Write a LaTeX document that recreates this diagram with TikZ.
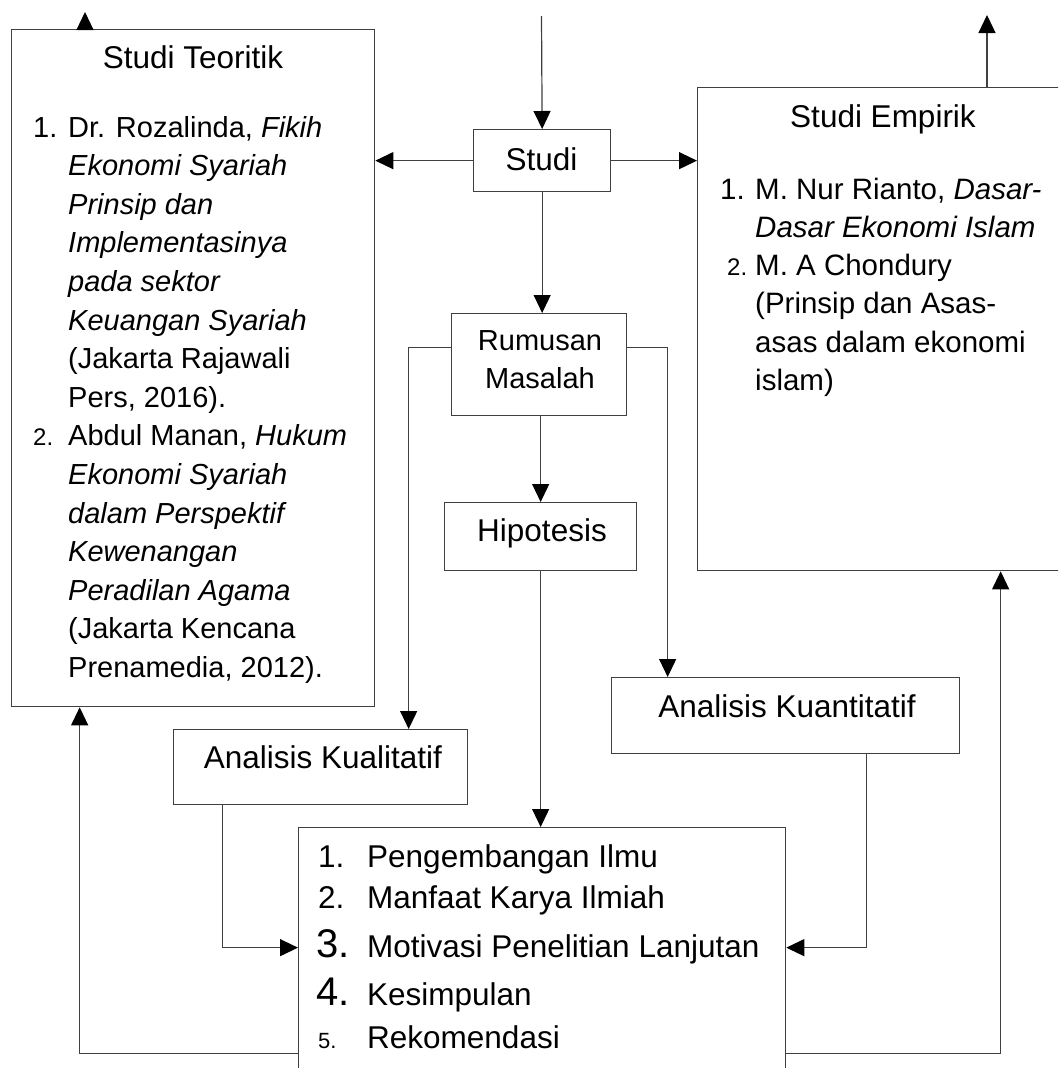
\documentclass[tikz,border=0pt]{standalone}
\usepackage{fontspec}
\setmainfont{Liberation Sans}
\usetikzlibrary{arrows.meta}
\newcommand{\fT}{\fontsize{31.5}{31.5}\selectfont}
\newcommand{\fI}{\fontsize{29}{29}\selectfont}
\newcommand{\fE}{\fontsize{29.5}{29.5}\selectfont}
\newcommand{\fS}{\fontsize{24}{24}\selectfont}
\newcommand{\fB}{\fontsize{40}{40}\selectfont}
\newcommand{\fR}{\fontsize{22}{22}\selectfont}
\begin{document}
\begin{tikzpicture}[x=1pt,y=-1pt,
  box/.style={draw=black!75, line width=1.3pt, rectangle, inner sep=0pt, anchor=north west},
  conn/.style={draw=black!75, line width=1.2pt},
  arr/.style={conn, -{Triangle[length=18pt,width=17pt,color=black]}},
  txt/.style={inner sep=0pt, anchor=base west},
  ctxt/.style={inner sep=0pt, anchor=base}]
\useasboundingbox (0,0) rectangle (1058,1068);
\clip (0,0) rectangle (1058,1068);
\fill[white] (0,0) rectangle (1058,1068);

% boxes
\node[box, minimum width=363pt, minimum height=677pt] (teo) at (11,29) {};
\node[box, minimum width=380pt, minimum height=483pt] (emp) at (697,87) {};
\node[box, minimum width=137pt, minimum height=62pt] (studi) at (473,129) {};
\node[box, minimum width=175pt, minimum height=102pt] (rum) at (451,313) {};
\node[box, minimum width=192pt, minimum height=68pt] (hip) at (444,502) {};
\node[box, minimum width=348pt, minimum height=76pt] (kuan) at (611,677) {};
\node[box, minimum width=294pt, minimum height=75pt] (kual) at (173,729) {};
\node[box, minimum width=487pt, minimum height=260pt] (res) at (298,827) {};

% Studi Teoritik text
\node[ctxt] (teoT) at (193,68) {\fT Studi Teoritik};
\node[txt] (t1n) at (33,137) {\fI 1.};
\node[txt] (t1) at (68,137) {\fI Dr. Rozalinda, \textit{Fikih}};
\node[txt] (t2) at (68,175.6) {\fI\itshape Ekonomi Syariah};
\node[txt] (t3) at (68,214.2) {\fI\itshape Prinsip dan};
\node[txt] (t4) at (68,252.8) {\fI\itshape Implementasinya};
\node[txt] (t5) at (68,291.4) {\fI\itshape pada sektor};
\node[txt] (t6) at (68,330) {\fI\itshape Keuangan Syariah};
\node[txt] (t7) at (68,368.6) {\fI (Jakarta Rajawali};
\node[txt] (t8) at (68,407.2) {\fI Pers, 2016).};
\node[txt] (t9n) at (33,445.8) {\fS 2.};
\node[txt] (t9) at (68,445.8) {\fI Abdul Manan, \textit{Hukum}};
\node[txt] (t10) at (68,484.4) {\fI\itshape Ekonomi Syariah};
\node[txt] (t11) at (68,523) {\fI\itshape dalam Perspektif};
\node[txt] (t12) at (68,561.6) {\fI\itshape Kewenangan};
\node[txt] (t13) at (68,600.2) {\fI\itshape Peradilan Agama};
\node[txt] (t14) at (68,638.8) {\fI (Jakarta Kencana};
\node[txt] (t15) at (68,677.4) {\fI Prenamedia, 2012).};

% Studi Empirik text
\node[ctxt] (empT) at (883,127) {\fT Studi Empirik};
\node[txt] (e1n) at (720,199) {\fE 1.};
\node[txt] (e1) at (755,199) {\fE M. Nur Rianto, \textit{Dasar-}};
\node[txt] (e2) at (755,237) {\fE\itshape Dasar Ekonomi Islam};
\node[txt] (e3n) at (727,275) {\fS 2.};
\node[txt] (e3) at (755,275) {\fE M. A Chondury};
\node[txt] (e4) at (755,313) {\fE (Prinsip dan Asas-};
\node[txt] (e5) at (755,352) {\fE asas dalam ekonomi};
\node[txt] (e6) at (755,390) {\fE islam)};

% small boxes text
\node[ctxt] (studiT) at (541.5,170) {\fT Studi};
\node[ctxt] (rumT1) at (540,350) {\fI Rumusan};
\node[ctxt] (rumT2) at (540,388) {\fI Masalah};
\node[ctxt] (hipT) at (542,541) {\fT Hipotesis};
\node[ctxt] (kuanT) at (787,717) {\fT Analisis Kuantitatif};
\node[ctxt] (kualT) at (323,768) {\fT Analisis Kualitatif};

% result box text
\node[txt] (r1n) at (318,867) {\fT 1.};
\node[txt] (r1) at (367,867) {\fT Pengembangan Ilmu};
\node[txt] (r2n) at (318,908) {\fT 2.};
\node[txt] (r2) at (367,908) {\fT Manfaat Karya Ilmiah};
\node[txt] (r3n) at (316,957) {\fB 3.};
\node[txt] (r3) at (367,957) {\fT Motivasi Penelitian Lanjutan};
\node[txt] (r4n) at (316,1005) {\fB 4.};
\node[txt] (r4) at (367,1005) {\fT Kesimpulan};
\node[txt] (r5n) at (318,1048) {\fR 5.};
\node[txt] (r5) at (367,1048) {\fT Rekomendasi};

% free ends
\coordinate (topin) at (541.5,16);
\coordinate (teoup) at (85,12);
\coordinate (empup) at (987,15);

% connectors
\draw[arr] (topin) -- (studi.north);
\draw[arr] (studi.west) -- (studi.west -| teo.east);
\draw[arr] (studi.east) -- (studi.east -| emp.west);
\draw[arr] (studi.south) -- (studi.south |- rum.north);
\draw[arr] (hip.north |- rum.south) -- (hip.north);
\draw[arr] ([yshift=17pt]rum.west) -| ([xshift=88pt]kual.north);
\draw[arr] ([yshift=17pt]rum.east) -| ([xshift=-118pt]kuan.north);
\draw[arr] (hip.south) -- (hip.south |- res.north);
\draw[arr] ([xshift=-98pt]kual.south) |- ([yshift=10pt]res.west);
\draw[arr] ([xshift=81pt]kuan.south) |- ([yshift=10pt]res.east);
\draw[arr] ([yshift=-96pt]res.west) -| ([xshift=-113.5pt]teo.south);
\draw[arr] ([yshift=-96pt]res.east) -| ([xshift=113pt]emp.south);
\draw[arr] (teoup |- teo.north) -- (teoup);
\draw[arr] (empup |- emp.north) -- (empup);
\end{tikzpicture}
\end{document}
